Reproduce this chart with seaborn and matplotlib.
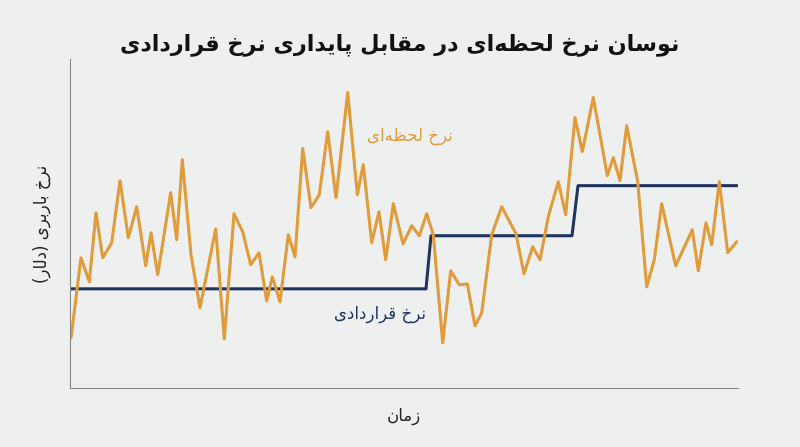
import numpy as np
import pandas as pd
import matplotlib
matplotlib.use('Agg')
import matplotlib.pyplot as plt
import seaborn as sns

# spot rate (time, value)
spot_t = [71.0, 81.0, 89.3, 96.0, 102.7, 111.7, 120.0, 128.3, 136.7, 145.7, 151.0, 157.7,
          170.7, 176.7, 182.3, 191.0, 200.0, 215.7, 224.3, 234.0, 242.7, 250.7, 259.0, 266.7,
          272.3, 280.0, 288.3, 295.0, 302.7, 311.0, 319.3, 327.7, 336.0, 347.7, 357.3, 363.3,
          371.7, 379.0, 385.7, 393.3, 403.0, 411.7, 419.3, 426.7, 433.3, 442.7, 450.7, 459.3,
          467.3, 475.0, 481.7, 491.7, 501.7, 516.0, 524.0, 532.7, 540.0, 548.3, 558.3, 565.7,
          575.0, 582.3, 593.3, 607.3, 613.3, 620.0, 626.7, 637.7, 646.7, 654.3, 661.7, 675.7,
          692.3, 698.3, 706.0, 711.7, 719.3, 727.7, 736.7]
spot_v = [6.2, 14.2, 11.8, 18.7, 14.2, 15.7, 21.9, 16.2, 19.3, 13.4, 16.7, 12.5,
          20.7, 16.0, 24.0, 14.5, 9.2, 17.1, 6.1, 18.6, 16.8, 13.5, 14.7, 9.9,
          12.3, 9.8, 16.5, 14.3, 25.1, 19.2, 20.5, 26.8, 20.2, 30.7, 20.5, 23.5,
          15.7, 18.8, 14.0, 19.6, 15.6, 17.4, 16.4, 18.6, 16.5, 5.7, 12.9, 11.5,
          11.6, 7.4, 8.7, 16.5, 19.3, 16.6, 12.6, 15.3, 14.0, 18.3, 21.8, 18.5,
          28.2, 24.8, 30.2, 22.4, 24.2, 21.9, 27.4, 21.8, 11.3, 14.0, 19.6, 13.4,
          17.0, 12.9, 17.7, 15.5, 21.8, 14.7, 15.8]
# contract rate
contract_t = [71.0, 426.0, 431.0, 572.0, 578.0, 737.0]
contract_v = [11.1, 11.1, 16.4, 16.4, 21.4, 21.4]

title = 'نوسان نرخ لحظه‌ای در مقابل پایداری نرخ قراردادی'
xlabel = 'زمان'
ylabel = 'نرخ باربری (دلار)'
spot_label = 'نرخ لحظه‌ای'
contract_label = 'نرخ قراردادی'

FORMS = {
    'ا': (0xFE8D, 0xFE8E, None, None), 'د': (0xFEA9, 0xFEAA, None, None),
    'ر': (0xFEAD, 0xFEAE, None, None), 'ز': (0xFEAF, 0xFEB0, None, None),
    'و': (0xFEED, 0xFEEE, None, None),
    'ب': (0xFE8F, 0xFE90, 0xFE91, 0xFE92), 'پ': (0xFB56, 0xFB57, 0xFB58, 0xFB59),
    'ح': (0xFEA1, 0xFEA2, 0xFEA3, 0xFEA4), 'خ': (0xFEA5, 0xFEA6, 0xFEA7, 0xFEA8),
    'س': (0xFEB1, 0xFEB2, 0xFEB3, 0xFEB4), 'ظ': (0xFEC5, 0xFEC6, 0xFEC7, 0xFEC8),
    'ق': (0xFED5, 0xFED6, 0xFED7, 0xFED8), 'ل': (0xFEDD, 0xFEDE, 0xFEDF, 0xFEE0),
    'م': (0xFEE1, 0xFEE2, 0xFEE3, 0xFEE4), 'ن': (0xFEE5, 0xFEE6, 0xFEE7, 0xFEE8),
    'ه': (0xFEE9, 0xFEEA, 0xFEEB, 0xFEEC), 'ی': (0xFBFC, 0xFBFD, 0xFBFE, 0xFBFF),
}


def fa(s):
    # minimal Persian shaping + right-to-left ordering
    out = []
    for i, c in enumerate(s):
        if c not in FORMS:
            if c != '\u200c':
                out.append({'(': ')', ')': '('}.get(c, c))
            continue
        prev = s[i - 1] if i > 0 else ''
        nxt = s[i + 1] if i + 1 < len(s) else ''
        jp = prev in FORMS and FORMS[prev][2] is not None
        jn = nxt in FORMS and FORMS[c][2] is not None
        iso, fin, ini, med = FORMS[c]
        if jp and jn:
            code = med
        elif jp:
            code = fin
        elif jn:
            code = ini
        else:
            code = iso
        out.append(chr(code))
    return ''.join(reversed(out))


bg = '#eef0f0'
orange = '#e09b3a'
navy = '#1f3560'

sns.set_style('white', {'axes.facecolor': bg, 'figure.facecolor': bg})
plt.rcParams['font.family'] = ['DejaVu Sans']

df_spot = pd.DataFrame({'t': spot_t, 'v': spot_v})
df_con = pd.DataFrame({'t': contract_t, 'v': contract_v})

fig = plt.figure(figsize=(8, 4.47), dpi=100)
ax = fig.add_axes([0.0875, 0.132, 0.835, 0.735])
sns.lineplot(data=df_con, x='t', y='v', color=navy, lw=2.2, ax=ax)
sns.lineplot(data=df_spot, x='t', y='v', color=orange, lw=2.2, ax=ax)
ax.set_xlim(70, 738)
ax.set_ylim(1.2, 34)
ax.set_xticks([])
ax.set_yticks([])
for s in ['top', 'right']:
    ax.spines[s].set_visible(False)
for s in ['left', 'bottom']:
    ax.spines[s].set_color('#888888')
ax.set_xlabel(fa(xlabel), fontsize=12, color='#222222', labelpad=14)
ax.set_ylabel(fa(ylabel), fontsize=12, color='#222222', labelpad=14)
ax.text(410, 26.4, fa(spot_label), color=orange, fontsize=12, ha='center', va='center')
ax.text(380, 8.6, fa(contract_label), color=navy, fontsize=12, ha='center', va='center')
fig.suptitle(fa(title), fontsize=16, fontweight='bold', color='#111111', y=0.925)

fig.savefig('out.png', dpi=100, facecolor=bg)
